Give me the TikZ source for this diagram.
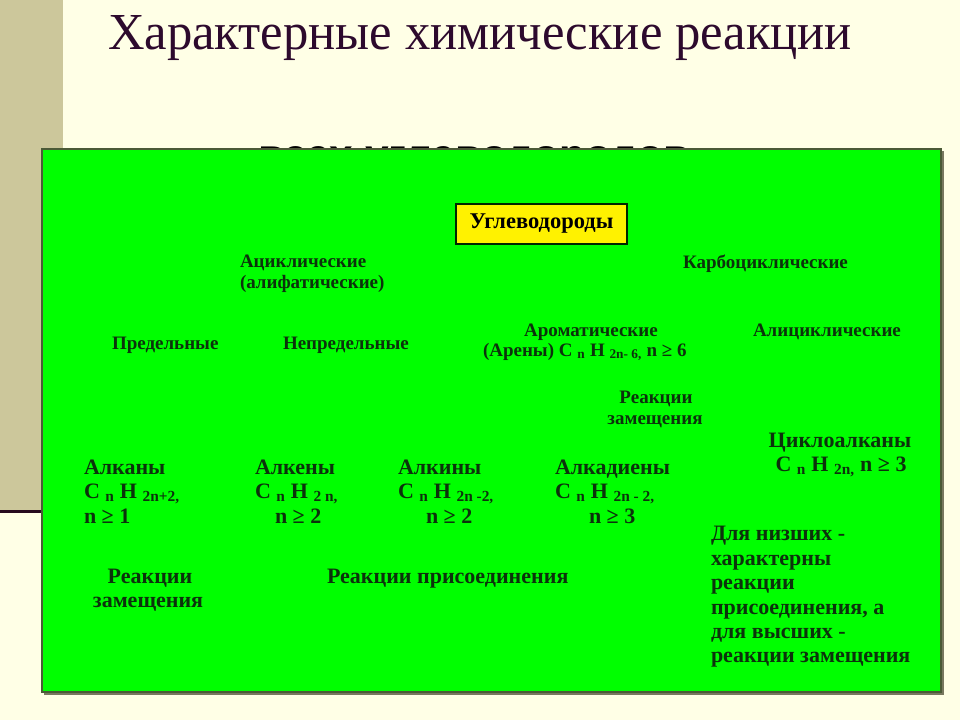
\documentclass[tikz,border=0pt]{standalone}
\usepackage{fontspec}
\usepackage{graphicx}
\setmainfont{Liberation Serif}
\setsansfont{Liberation Sans}
\definecolor{cream}{RGB}{255,255,230}
\definecolor{tan}{RGB}{204,199,155}
\definecolor{titlecol}{RGB}{45,10,45}
\definecolor{darkline}{RGB}{40,10,30}
\definecolor{boxgreen}{RGB}{0,255,0}
\definecolor{boxedge}{RGB}{75,90,55}
\definecolor{shadowcol}{RGB}{120,120,95}
\definecolor{txt}{RGB}{12,50,12}
\newcommand{\chsub}[1]{\textsubscript{#1}}
\begin{document}
\begin{tikzpicture}[x=1pt,y=-1pt,
  every node/.style={inner sep=0pt,outer sep=0pt},
  sm/.style={font=\bfseries\fontsize{19}{22}\selectfont, text=txt},
  bg/.style={font=\bfseries\fontsize{22}{26}\selectfont, text=txt},
  ybox/.style={draw=black!85!green, line width=1.4pt, fill=yellow,
    minimum width=171pt, minimum height=40pt,
    font=\bfseries\fontsize{22.5}{26}\selectfont, text=black}]
\useasboundingbox (0,0) rectangle (960,720);
% background
\fill[cream] (0,0) rectangle (960,720);
\fill[tan] (0,0) rectangle (63,510);
\draw[darkline, line width=3pt] (0,511.5) -- (63,511.5);
% title
\node[anchor=base west, text=titlecol] (title) at (108,49)
  {\resizebox{744pt}{34pt}{Характерные химические реакции}};
\node[anchor=base, text=black] (subtitle) at (474,167)
  {\resizebox{432pt}{21pt}{\sffamily\bfseries всех углеводородов}};
% green panel
\fill[shadowcol] (44,151) rectangle (944,695);
\draw[fill=boxgreen, draw=boxedge, line width=1.4pt] (42,149) rectangle (941,692);
% root
\node[ybox] (root) at (541.5,224) {Углеводороды};
% level 1
\node[sm, anchor=base west] (acyc1) at (240,267) {Ациклические};
\node[sm, anchor=base west] (acyc2) at (240,288) {(алифатические)};
\node[sm, anchor=base west] (carb) at (683,268) {Карбоциклические};
% level 2
\node[sm, anchor=base west] (sat) at (112,349) {Предельные};
\node[sm, anchor=base west] (unsat) at (283,349) {Непредельные};
\node[sm, anchor=base] (arom1) at (591,336) {Ароматические};
\node[sm, anchor=base west] (arom2) at (483,356)
  {(Арены) C \chsub{n} H \chsub{2n- 6,} n ≥ 6};
\node[sm, anchor=base west] (alicyc) at (753,336) {Алициклические};
\node[sm, anchor=base] (aromr1) at (656,403) {Реакции};
\node[sm, anchor=base] (aromr2) at (655,424) {замещения};
% cycloalkanes
\node[bg, anchor=base] (cyc1) at (840,447) {Циклоалканы};
\node[bg, anchor=base] (cyc2) at (841,471) {C \chsub{n} H \chsub{2n,} n ≥ 3};
% level 3
\node[bg, anchor=base west] (alk1) at (84,474) {Алканы};
\node[bg, anchor=base west] (alk2) at (84,498) {C \chsub{n} H \chsub{2n+2,}};
\node[bg, anchor=base west] (alk3) at (84,523) {n ≥ 1};
\node[bg, anchor=base west] (ene1) at (255,474) {Алкены};
\node[bg, anchor=base west] (ene2) at (255,498) {C \chsub{n} H \chsub{2 n,}};
\node[bg, anchor=base west] (ene3) at (275,523) {n ≥ 2};
\node[bg, anchor=base west] (yne1) at (398,474) {Алкины};
\node[bg, anchor=base west] (yne2) at (398,498) {C \chsub{n} H \chsub{2n -2,}};
\node[bg, anchor=base west] (yne3) at (426,523) {n ≥ 2};
\node[bg, anchor=base west] (dien1) at (555,474) {Алкадиены};
\node[bg, anchor=base west] (dien2) at (555,498) {C \chsub{n} H \chsub{2n - 2,}};
\node[bg, anchor=base west] (dien3) at (589,523) {n ≥ 3};
% reactions
\node[bg, anchor=base] (subst1) at (150,583) {Реакции};
\node[bg, anchor=base] (subst2) at (148,607) {замещения};
\node[bg, anchor=base west] (addn) at (327,583) {Реакции присоединения};
% cycloalkane note
\node[bg, anchor=base west] (note1) at (711,540) {Для низших -};
\node[bg, anchor=base west] (note2) at (711,565) {характерны};
\node[bg, anchor=base west] (note3) at (711,589) {реакции};
\node[bg, anchor=base west] (note4) at (711,614) {присоединения, а};
\node[bg, anchor=base west] (note5) at (711,638) {для высших -};
\node[bg, anchor=base west] (note6) at (711,662) {реакции замещения};
\end{tikzpicture}
\end{document}
